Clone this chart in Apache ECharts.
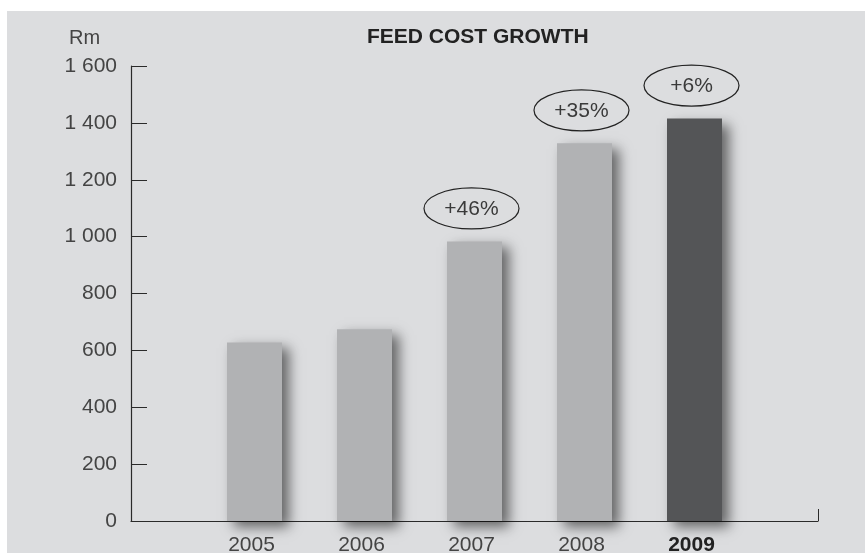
<!DOCTYPE html>
<html>
<head>
<meta charset="utf-8">
<script src="https://cdn.jsdelivr.net/npm/echarts@6/dist/echarts.min.js"></script>
<style>
  html, body { margin: 0; padding: 0; background: #fff; }
  #chart { width: 868px; height: 553px; }
</style>
</head>
<body>
<div id="chart"></div>
<script>
// data
var years = ['2005', '2006', '2007', '2008', '2009'];
var feedCost = [628, 674, 983, 1328, 1415];
var growth = ['', '', '+46%', '+35%', '+6%'];
var yTicks = [0, 200, 400, 600, 800, 1000, 1200, 1400, 1600];

var font = 'Liberation Sans, Arial, sans-serif';
var bg = '#dcdddf';
var barLight = '#b1b2b4';
var barDark = '#545557';

var chart = echarts.init(document.getElementById('chart'));

function fmtThousands(v) {
    return String(v).replace(/\B(?=(\d{3})+(?!\d))/g, ' ');
}

var top0 = 66, bottom0 = 32;

var option = {
    animation: false,
    graphic: [{
        type: 'rect',
        z: -10,
        silent: true,
        shape: { x: 7, y: 11, width: 858, height: 542 },
        style: { fill: bg }
    }],
    title: [
        {
            text: 'FEED COST GROWTH',
            left: 367, top: 27, padding: 0,
            textStyle: { fontFamily: font, fontSize: 21, fontWeight: 'bold', color: '#222' }
        },
        {
            text: 'Rm',
            left: 69, top: 28, padding: 0,
            textStyle: { fontFamily: font, fontSize: 20, fontWeight: 'normal', color: '#444' }
        }
    ],
    grid: [
        { left: 131, right: 50, top: top0, bottom: bottom0, outerBoundsMode: 'none' },
        { left: 199.5, right: 118.5, top: top0, bottom: bottom0, outerBoundsMode: 'none' }
    ],
    xAxis: [
        {
            gridIndex: 0,
            type: 'value',
            min: 0, max: 1, interval: 1,
            axisLine: { show: true, lineStyle: { color: '#2a2a2a', width: 1.2 } },
            axisTick: { show: true, inside: true, length: 12, lineStyle: { color: '#2a2a2a' } },
            axisLabel: { show: false },
            splitLine: { show: false }
        },
        {
            gridIndex: 1,
            type: 'category',
            data: years,
            axisLine: { show: false },
            axisTick: { show: false },
            axisLabel: {
                margin: 14,
                padding: [0, 6, 0, 0],
                fontFamily: font,
                fontSize: 21,
                color: '#444',
                formatter: function (v) {
                    return v === '2009' ? '{b|' + v + '}' : v;
                },
                rich: {
                    b: { fontFamily: font, fontSize: 21, fontWeight: 'bold', color: '#222' }
                }
            }
        }
    ],
    yAxis: [
        {
            gridIndex: 0,
            type: 'value',
            min: yTicks[0], max: yTicks[yTicks.length - 1], interval: 200,
            axisLine: { show: true, lineStyle: { color: '#2a2a2a', width: 1.2 } },
            axisTick: { show: true, inside: true, length: 16, lineStyle: { color: '#2a2a2a' } },
            axisLabel: {
                margin: 14,
                fontFamily: font,
                fontSize: 21,
                color: '#444',
                formatter: fmtThousands
            },
            splitLine: { show: false }
        },
        {
            gridIndex: 1,
            type: 'value',
            min: yTicks[0], max: yTicks[yTicks.length - 1],
            show: false
        }
    ],
    series: [
        {
            type: 'bar',
            xAxisIndex: 1,
            yAxisIndex: 1,
            barWidth: 55,
            z: 1,
            data: feedCost.map(function (v, i) {
                return {
                    value: v,
                    itemStyle: { color: years[i] === '2009' ? barDark : barLight }
                };
            }),
            itemStyle: {
                shadowBlur: 12,
                shadowOffsetX: 7,
                shadowOffsetY: 6,
                shadowColor: 'rgba(0,0,0,0.55)'
            }
        },
        {
            type: 'custom',
            xAxisIndex: 1,
            yAxisIndex: 1,
            z: 5,
            data: feedCost.map(function (v, i) { return [i, v]; }),
            renderItem: function (params, api) {
                var label = growth[params.dataIndex];
                if (!label) return;
                var p = api.coord([api.value(0), api.value(1)]);
                var cx = p[0] - 3, cy = p[1] - 33;
                return {
                    type: 'group',
                    children: [
                        {
                            type: 'ellipse',
                            shape: { cx: cx, cy: cy, rx: 47.5, ry: 20.5 },
                            style: { fill: 'none', stroke: '#222', lineWidth: 1.2 }
                        },
                        {
                            type: 'text',
                            style: {
                                text: label, x: cx, y: cy + 1,
                                align: 'center', verticalAlign: 'middle',
                                fontFamily: font, fontSize: 21, fill: '#3a3a3a'
                            }
                        }
                    ]
                };
            }
        }
    ]
};

chart.setOption(option);
</script>
</body>
</html>
